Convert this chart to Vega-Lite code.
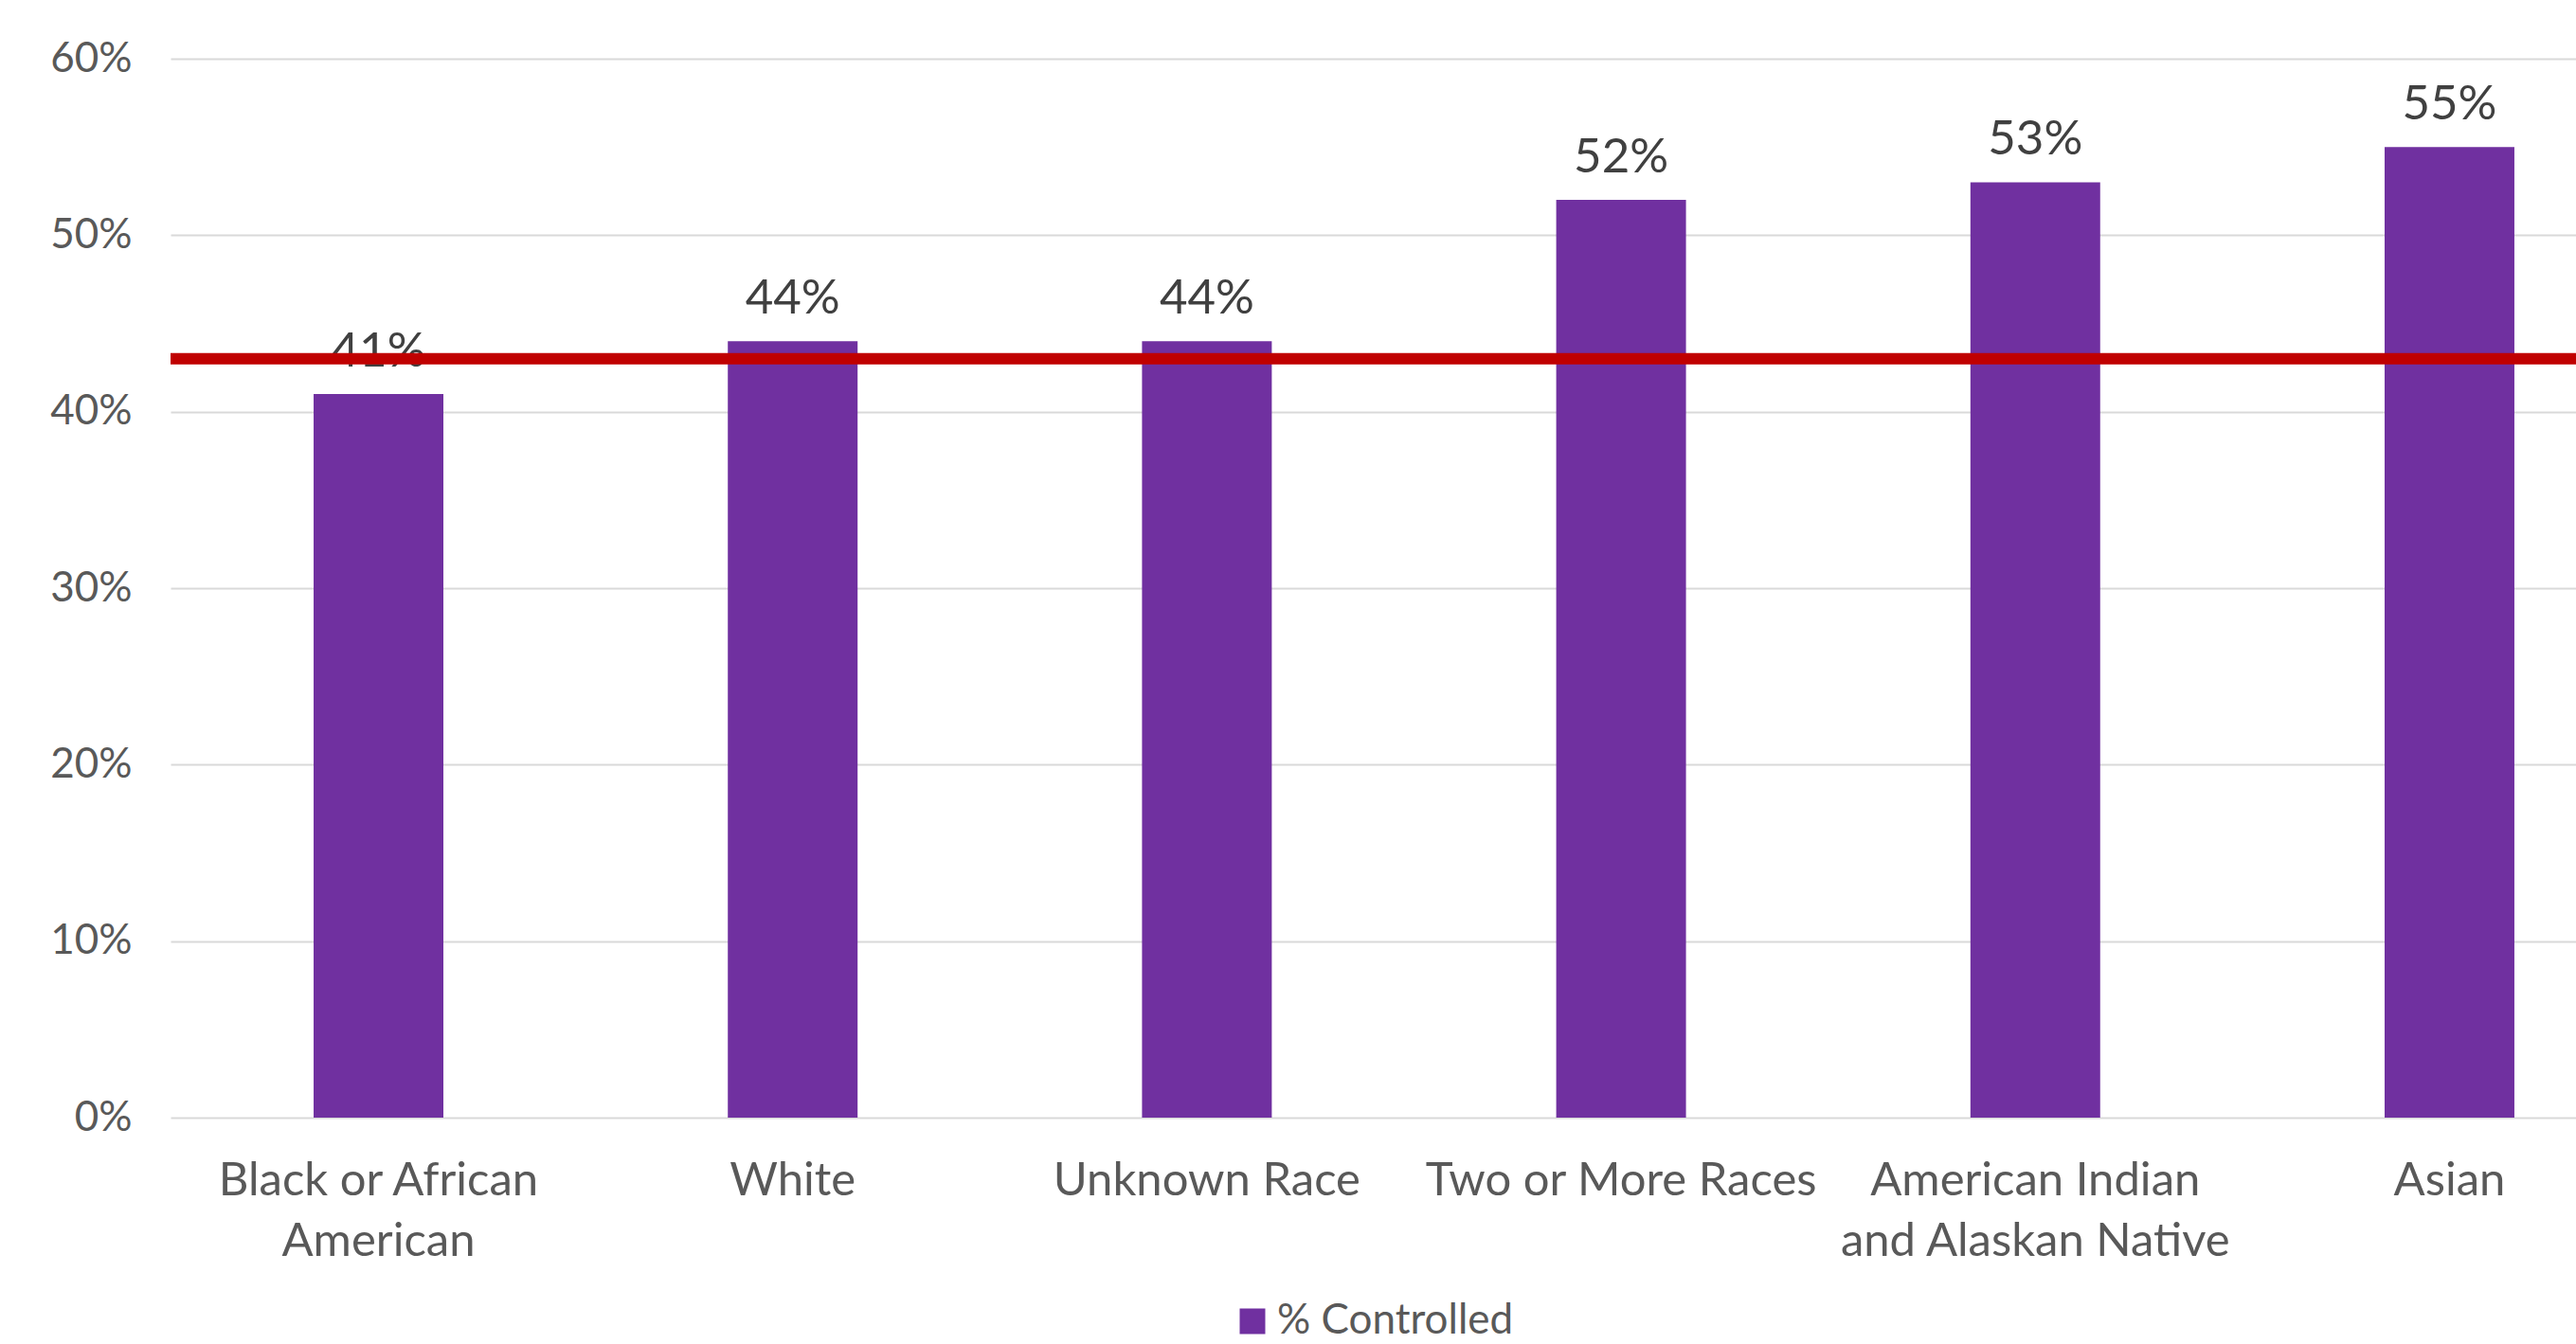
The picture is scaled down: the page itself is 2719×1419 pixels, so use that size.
{
  "$schema": "https://vega.github.io/schema/vega-lite/v6.json",
  "autosize": {"type": "none"},
  "width": 2539,
  "height": 1118,
  "padding": {"left": 180, "top": 62, "right": 0, "bottom": 239},
  "background": "white",
  "config": {"view": {"stroke": null}, "font": "Lato"},
  "datasets": {
    "bars": [
      {"race": "Black or African American", "pct": 0.41, "series": "% Controlled"},
      {"race": "White", "pct": 0.44, "series": "% Controlled"},
      {"race": "Unknown Race", "pct": 0.44, "series": "% Controlled"},
      {"race": "Two or More Races", "pct": 0.52, "series": "% Controlled"},
      {"race": "American Indian and Alaskan Native", "pct": 0.53, "series": "% Controlled"},
      {"race": "Asian", "pct": 0.55, "series": "% Controlled"}
    ],
    "target": [{"benchmark": 0.43}]
  },
  "layer": [
    {
      "data": {"name": "bars"},
      "mark": {"type": "bar"},
      "encoding": {
        "x": {
          "field": "race", "type": "nominal", "sort": null,
          "scale": {"paddingInner": 0.6867, "paddingOuter": 0.2471, "align": 0.699},
          "axis": {
            "title": null, "domain": false, "ticks": false, "grid": false,
            "labelAngle": 0, "labelFont": "Lato", "labelFontSize": 49, "labelColor": "#595959",
            "labelPadding": 42, "labelLineHeight": 64, "labelBaseline": "top", "labelLimit": 0,
            "labelExpr": "datum.value == 'Black or African American' ? ['Black or African', 'American'] : datum.value == 'American Indian and Alaskan Native' ? ['American Indian', 'and Alaskan Native'] : datum.value"
          }
        },
        "y": {
          "field": "pct", "type": "quantitative",
          "scale": {"domain": [0, 0.6], "nice": false},
          "axis": {
            "title": null, "domain": false, "ticks": false, "grid": true,
            "gridColor": "#D9D9D9", "gridWidth": 2,
            "values": [0, 0.1, 0.2, 0.3, 0.4, 0.5, 0.6], "format": ".0%",
            "labelFont": "Lato", "labelFontSize": 44, "labelColor": "#595959", "labelPadding": 41
          }
        },
        "color": {
          "field": "series", "type": "nominal",
          "scale": {"range": ["#7030A0"]},
          "legend": {
            "title": null, "orient": "none", "legendX": 1120, "legendY": 1311, "padding": 0,
            "symbolType": "square", "symbolSize": 729, "symbolStrokeWidth": 0, "labelOffset": 4,
            "labelFont": "Lato", "labelFontSize": 44, "labelColor": "#595959", "labelLimit": 0
          }
        }
      }
    },
    {
      "data": {"name": "bars"},
      "mark": {"type": "text", "baseline": "alphabetic", "dy": -29, "font": "Lato", "fontSize": 51, "color": "#404040"},
      "encoding": {
        "x": {"field": "race", "type": "nominal", "sort": null},
        "y": {"field": "pct", "type": "quantitative"},
        "text": {"field": "pct", "type": "quantitative", "format": ".0%"}
      }
    },
    {
      "data": {"name": "target"},
      "mark": {"type": "rule", "color": "#C00000", "strokeWidth": 12},
      "encoding": {
        "y": {"field": "benchmark", "type": "quantitative"}
      }
    }
  ]
}
